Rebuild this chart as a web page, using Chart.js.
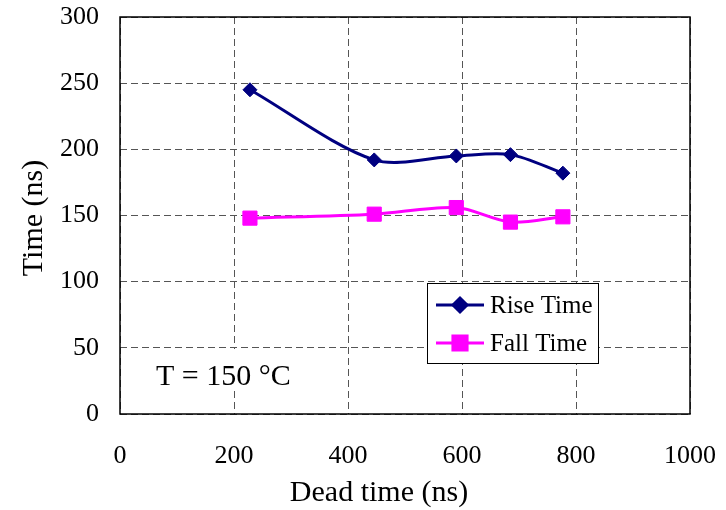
<!DOCTYPE html>
<html>
<head>
<meta charset="utf-8">
<script src="https://cdn.jsdelivr.net/npm/chart.js@4.4.1/dist/chart.umd.min.js"></script>
<style>
    html, body { margin: 0; padding: 0; background: #fff; }
    #wrap { width: 726px; height: 510px; }
</style>
</head>
<body>
<div id="wrap"><canvas id="chart" width="726" height="510"></canvas></div>
<script>
// Data
const deadTime = [228, 446, 590, 685, 777];        // x values (ns)
const riseTime = [245, 192, 195, 196, 182];        // rise time (ns)
const fallTime = [148, 151, 156, 145, 149];        // fall time (ns)
const seriesNames = ['Rise Time', 'Fall Time'];
const xTitle = 'Dead time (ns)';
const yTitle = 'Time (ns)';
const noteText = 'T = 150 °C';

const serif = "'Liberation Serif', 'Times New Roman', serif";

/**
 * Build {x, y} points for a series
 */
function toPoints(ys) {
    var pts = [];
    for (var i = 0; i < deadTime.length; ++i) {
        pts.push({ x: deadTime[i], y: ys[i] });
    }
    return pts;
}

// Draws frame, note, legend box and axis titles
const decorPlugin = {
    id: 'decor',
    beforeDraw(chart) {
        const ctx = chart.ctx;
        ctx.save();
        ctx.fillStyle = '#fff';
        ctx.fillRect(0, 0, chart.width, chart.height);
        ctx.restore();
    },
    afterDatasetsDraw(chart) {
        const ctx = chart.ctx;
        const a = chart.chartArea;
        ctx.save();

        // Plot frame
        ctx.strokeStyle = '#000';
        ctx.lineWidth = 1.5;
        ctx.strokeRect(a.left, a.top, a.right - a.left, a.bottom - a.top);

        // Temperature note with white background
        ctx.font = '30px ' + serif;
        ctx.textBaseline = 'alphabetic';
        ctx.textAlign = 'left';
        const nw = ctx.measureText(noteText).width;
        ctx.fillStyle = '#fff';
        ctx.fillRect(a.left + 22, a.top + 332, nw + 24, 42);
        ctx.fillStyle = '#000';
        ctx.fillText(noteText, a.left + 36, a.top + 368);

        // Legend box
        const lx = 427, ly = 283, lw = 171, lh = 80;
        ctx.fillStyle = '#fff';
        ctx.fillRect(lx, ly, lw, lh);
        ctx.strokeStyle = '#000';
        ctx.lineWidth = 1;
        ctx.strokeRect(lx + 0.5, ly + 0.5, lw, lh);
        ctx.font = '25px ' + serif;
        ctx.textBaseline = 'middle';
        chart.data.datasets.forEach(function (ds, i) {
            const y = ly + 22 + i * 38;
            ctx.strokeStyle = ds.borderColor;
            ctx.lineWidth = ds.borderWidth;
            ctx.beginPath();
            ctx.moveTo(lx + 9, y);
            ctx.lineTo(lx + 57, y);
            ctx.stroke();
            Chart.helpers.drawPoint(ctx, {
                pointStyle: ds.pointStyle,
                radius: ds.pointRadius,
                rotation: 0,
                borderWidth: 1
            }, lx + 33, y);
            ctx.fillStyle = ds.backgroundColor;
            ctx.fill();
            ctx.fillStyle = '#000';
            ctx.fillText(ds.label, lx + 63, y + 1);
        });

        // Axis titles
        ctx.fillStyle = '#000';
        ctx.font = '30px ' + serif;
        ctx.textAlign = 'center';
        ctx.textBaseline = 'middle';
        ctx.fillText(xTitle, 379, 493);
        ctx.translate(34, 218);
        ctx.rotate(-Math.PI / 2);
        ctx.fillText(yTitle, 0, 0);
        ctx.restore();
    }
};

const tickFont = { family: serif, size: 26 };

new Chart(document.getElementById('chart'), {
    type: 'line',
    data: {
        datasets: [{
            label: seriesNames[0],
            data: toPoints(riseTime),
            borderColor: '#000080',
            backgroundColor: '#000080',
            borderWidth: 3,
            pointStyle: 'rectRot',
            pointRadius: 7,
            pointBorderWidth: 1,
            tension: 0.3,
        }, {
            label: seriesNames[1],
            data: toPoints(fallTime),
            borderColor: '#ff00ff',
            backgroundColor: '#ff00ff',
            borderWidth: 3,
            pointStyle: 'rect',
            pointRadius: 10,
            pointBorderWidth: 1,
            tension: 0.3,
        }]
    },
    options: {
        responsive: false,
        animation: false,
        layout: { padding: { left: 0, top: 17, right: 36, bottom: 0 } },
        plugins: {
            legend: { display: false },
            tooltip: { enabled: false }
        },
        scales: {
            x: {
                type: 'linear',
                min: 0,
                max: 1000,
                ticks: {
                    stepSize: 200, font: tickFont, color: '#000', padding: 27, maxRotation: 0,
                    callback: function (v) { return String(v); }
                },
                grid: { color: '#555', lineWidth: 1, drawTicks: false },
                border: { display: false, dash: [7, 4] },
                afterFit(scale) {
                    scale.height = 96;
                    scale.paddingLeft = 0;
                    scale.paddingRight = 0;
                }
            },
            y: {
                min: 0,
                max: 300,
                ticks: { stepSize: 50, font: tickFont, color: '#000', padding: 21 },
                grid: { color: '#555', lineWidth: 1, drawTicks: false },
                border: { display: false, dash: [7, 4] },
                afterFit(scale) {
                    scale.width = 120;
                    scale.paddingTop = 0;
                    scale.paddingBottom = 0;
                }
            }
        }
    },
    plugins: [decorPlugin]
});
</script>
</body>
</html>
